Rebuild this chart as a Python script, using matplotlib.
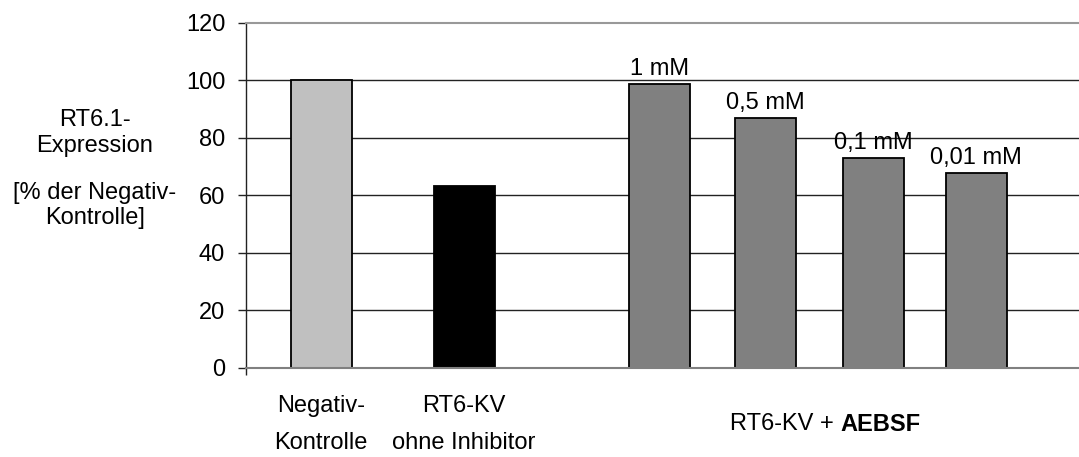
import matplotlib.pyplot as plt

plt.rcParams['font.family'] = ['Liberation Sans', 'DejaVu Sans']

# data
groups = ['Negativ-\nKontrolle', 'RT6-KV\nohne Inhibitor', '1 mM', '0,5 mM', '0,1 mM', '0,01 mM']
values = [100, 63, 98.5, 86.7, 72.8, 67.8]
conc_labels = ['', '', '1 mM', '0,5 mM', '0,1 mM', '0,01 mM']
yticks = [0, 20, 40, 60, 80, 100, 120]

# layout
positions = [0, 1.35, 3.19, 4.19, 5.21, 6.18]
colors = ['#C0C0C0', '#000000', '#808080', '#808080', '#808080', '#808080']
bar_w = 0.575
fs = 17
x_left, x_right = -0.708, 7.15

fig = plt.figure(figsize=(10.79, 4.57), dpi=100)
ax = fig.add_axes([246 / 1079, 1 - 367.5 / 457, 1 - 246 / 1079, (367.5 - 22.7) / 457])

for y in yticks[1:-1]:
    ax.axhline(y, color='#222222', lw=1.0, zorder=0)

ax.bar(positions, values, width=bar_w, color=colors, edgecolor='black', linewidth=1.3, zorder=2)

for x, v, t in zip(positions, values, conc_labels):
    if t:
        ax.annotate(t, (x, v), xytext=(0, 6.5), textcoords='offset points',
                    ha='center', va='baseline', fontsize=fs)

ax.set_ylim(0, 120)
ax.set_xlim(x_left, x_right)
ax.set_yticks(yticks)
ax.set_xticks([x_left])
ax.set_xticklabels([''])
ax.tick_params(axis='y', labelsize=fs, length=6, width=1, direction='out', pad=9,
               colors='#222222', labelcolor='black')
ax.tick_params(axis='x', length=5, width=1, direction='out', colors='#222222')

ax.spines['right'].set_visible(False)
ax.spines['top'].set_color('#999999')
ax.spines['top'].set_linewidth(1.5)
ax.spines['bottom'].set_color('#808080')
ax.spines['bottom'].set_linewidth(1.5)
ax.spines['left'].set_color('#222222')
ax.spines['left'].set_linewidth(1.0)

# category labels under the axis, one text per line
for x, g in zip(positions[:2], groups[:2]):
    top, bottom = g.split('\n')
    ax.text(x, -13.4, top, ha='center', va='center', fontsize=fs)
    ax.text(x, -26.3, bottom, ha='center', va='center', fontsize=fs)

ax.text(4.84, -19.8, 'RT6-KV +', ha='right', va='center', fontsize=fs)
ax.text(4.90, -19.8, 'AEBSF', ha='left', va='center', fontsize=fs, fontweight='bold')

# y axis label, drawn line by line
ylabel_lines = ['RT6.1-', 'Expression', '[% der Negativ-', 'Kontrolle]']
ylabel_ypx = [120, 146, 193, 218]
for line, ypx in zip(ylabel_lines, ylabel_ypx):
    fig.text(95 / 1079, 1 - ypx / 457, line, ha='center', va='center', fontsize=fs)

fig.savefig('out.png', dpi=100)
